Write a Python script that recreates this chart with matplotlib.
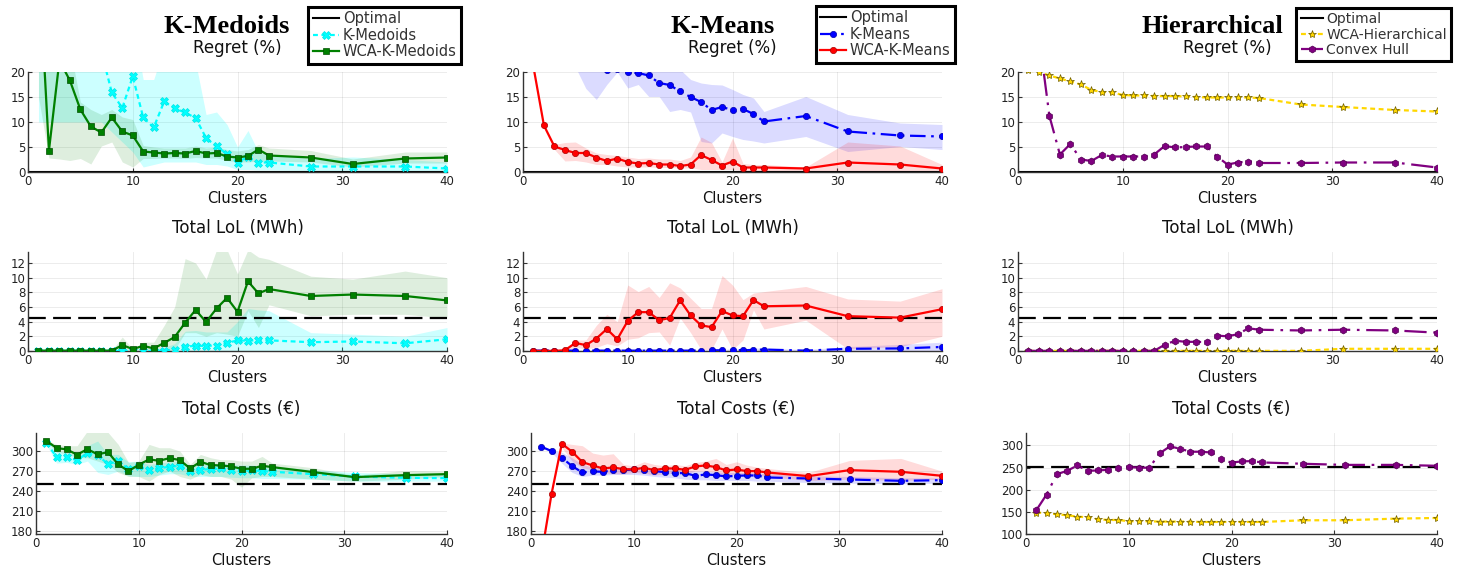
import matplotlib
matplotlib.use('Agg')
import matplotlib.pyplot as plt

W, H = 1465, 571
plt.rcParams['font.family'] = 'DejaVu Sans'

# cluster counts on the x axis
clusters = [1, 2, 3, 4, 5, 6, 7, 8, 9, 10, 11, 12, 13, 14, 15, 16, 17, 18, 19, 20,
            21, 22, 23, 27, 31, 36, 40]

# ---- Regret (%) ----
kmed_regret = [40, 35, 32, 30, 28, 26, 24.1, 15.9, 12.8, 19.1, 10.9, 8.9, 14.1, 12.7, 11.9, 10.8,
               6.8, 5.1, 3.6, 1.9, 3.1, 1.9, 1.9, 1.1, 1.1, 1.1, 0.7]
kmed_regret_lo = [10, 10, 10, 10, 10, 10, 10, 8, 6, 4, 1.0, 1.5, 2, 2, 2, 2, 1.5, 1.5, 1.2, 0.5,
                  0.5, 0.4, 0.4, 0.3, 0.3, 0.3, 0.2]
kmed_regret_hi = [45, 45, 45, 45, 45, 45, 45, 40, 35, 30, 18.5, 18.5, 25, 25, 25, 22, 11.5, 12, 9.5,
                  5, 8.3, 4, 3.5, 2.7, 3.0, 2.5, 2.0]
wca_kmed_regret = [43, 4.3, 22.3, 18.3, 12.5, 9.1, 7.9, 10.9, 8.1, 7.3, 4.1, 3.9, 3.7, 3.8, 3.7, 4.2,
                   3.7, 3.8, 3.1, 2.9, 3.2, 4.5, 3.3, 2.9, 1.6, 2.7, 2.9]
wca_kmed_regret_lo = [15, 2.8, 2.6, 2.3, 2.7, 1.6, 5.2, 6.0, 2.0, 1.0, 2.7, 2.7, 2.8, 2.8, 2.7, 2.9,
                      2.8, 2.8, 2.3, 2.0, 2.0, 2.2, 2.2, 2.0, 1.0, 1.8, 1.8]
wca_kmed_regret_hi = [50, 30, 30, 25, 14, 12.5, 11.5, 12.5, 11, 10.5, 5.3, 5, 4.8, 4.8, 4.8, 5.2,
                      4.8, 5, 4.5, 4.2, 4.5, 5.5, 4.8, 4.3, 2.6, 4.0, 4.0]

kmeans_regret = [30, 28, 27, 25, 24, 22, 21, 20.3, 20.5, 19.9, 19.8, 19.3, 17.8, 17.4, 16.1, 15.0,
                 14.0, 12.4, 13.0, 12.4, 12.6, 11.6, 10.1, 11.2, 8.1, 7.3, 7.1]
kmeans_regret_lo = [25, 24, 23, 22, 21, 16.7, 14.5, 17.5, 20, 16.8, 17.5, 15.1, 15.1, 12.1, 12.5, 12,
                    6.1, 5.8, 7.8, 7.1, 6.5, 6.2, 5.8, 7.1, 4.1, 5.1, 4.5]
kmeans_regret_hi = [35, 35, 35, 35, 35, 30, 30, 30, 30, 28, 27, 25, 24, 22, 20.5, 18.5, 17.8, 17.5,
                    17.4, 16.5, 15.5, 14.8, 12.1, 15.1, 11.5, 9.8, 9.5]
wca_kmeans_regret = [21, 9.3, 5.1, 4.4, 3.8, 3.8, 2.9, 2.2, 2.7, 2.0, 1.7, 1.8, 1.5, 1.5, 1.2, 1.5,
                     3.4, 2.4, 1.3, 2.1, 0.9, 0.9, 0.9, 0.7, 1.9, 1.5, 0.7]
wca_kmeans_regret_lo = [21, 9.3, 4.5, 2.2, 2.3, 2.0, 1.5, 1.5, 1.2, 1.0, 1.0, 1.0, 0.9, 0.9, 0.8, 0.8,
                        0.5, 0.5, 0.5, 0.5, 0.3, 0.3, 0.3, 0.3, 0.3, 0.3, 0.3]
wca_kmeans_regret_hi = [21, 9.3, 5.5, 5.9, 6.0, 4.8, 3.8, 3.5, 3.3, 3.0, 2.7, 2.8, 2.6, 2.6, 2.3, 3.0,
                        7.0, 5.9, 2.0, 6.8, 1.7, 1.5, 1.5, 1.0, 6.0, 5.2, 1.5]

wca_hier_regret = [20.3, 20.0, 19.3, 18.7, 18.1, 17.5, 16.4, 16.0, 15.9, 15.4, 15.3, 15.3, 15.2, 15.2,
                   15.2, 15.1, 15.0, 14.9, 14.9, 14.9, 14.9, 14.9, 14.8, 13.5, 13.0, 12.4, 12.1]
hull_regret = [35, 27.2, 11.2, 3.5, 5.6, 2.5, 2.2, 3.4, 3.1, 3.1, 3.1, 3.1, 3.5, 5.2, 4.9, 5.0, 5.1,
               5.1, 3.1, 1.5, 1.9, 2.1, 1.8, 1.8, 1.9, 1.9, 0.9]

# ---- Total LoL (MWh) ----
opt_lol = 4.55
kmed_lol = [0, 0, 0, 0, 0, 0, 0, 0, 0, 0, 0, 0, 0.05, 0.2, 0.6, 0.7, 0.7, 0.75, 1.1, 1.45, 1.4, 1.5,
            1.45, 1.2, 1.3, 1.05, 1.6]
kmed_lol_lo = [0, 0, 0, 0, 0, 0, 0, 0, 0, 0, 0, 0, 0, 0, 0, 0, 0, 0, 0, 0, 0, 0, 0, 0, 0, 0, 0]
kmed_lol_hi = [0, 0, 0, 0, 0, 0, 0, 0, 0, 0, 0, 0, 0.5, 1.0, 2.7, 2.8, 2.6, 2.6, 2.6, 4.0, 5.8, 5.6,
               5.5, 2.5, 2.3, 2.0, 3.2]
wca_kmed_lol = [0.05, 0.05, 0.05, 0.05, 0.05, 0.05, 0.05, 0.05, 0.8, 0.27, 0.7, 0.35, 1.1, 1.9, 3.85,
                5.6, 3.95, 5.8, 7.25, 5.35, 9.5, 7.85, 8.45, 7.5, 7.7, 7.5, 6.9]
wca_kmed_lol_lo = [0, 0, 0, 0, 0, 0, 0, 0, 0, 0, 0, 0, 0, 0.2, 2.5, 2.5, 2.0, 2.5, 2.3, 2.0, 5.5, 3.2,
                   6.3, 4.8, 5.0, 5.0, 4.5]
wca_kmed_lol_hi = [0.1, 0.1, 0.1, 0.1, 0.1, 0.1, 0.1, 0.1, 1.9, 0.3, 1.2, 1.2, 3.5, 6.0, 12.6, 12.0,
                   9.8, 13.8, 13.8, 10.5, 13.8, 12.8, 12.5, 10.2, 9.8, 10.9, 10.0]

kmeans_lol = [0.05, 0.05, 0.05, 0.05, 0.05, 0.05, 0.05, 0.05, 0.05, 0.05, 0.05, 0.05, 0.05, 0.05,
              0.05, 0.05, 0.05, 0.1, 0.1, 0.15, 0.1, 0.15, 0.2, 0.05, 0.3, 0.35, 0.55]
kmeans_lol_lo = [0, 0, 0, 0, 0, 0, 0, 0, 0, 0, 0, 0, 0, 0, 0, 0, 0, 0, 0, 0, 0, 0, 0, 0, 0, 0, 0]
kmeans_lol_hi = [0.1, 0.1, 0.1, 0.1, 0.1, 0.1, 0.1, 0.1, 0.1, 0.1, 0.1, 0.1, 0.1, 0.1, 0.1, 0.15,
                 0.15, 0.2, 0.2, 0.3, 0.2, 0.4, 0.4, 0.2, 0.6, 0.9, 1.2]
wca_kmeans_lol = [0.02, 0.02, 0.02, 0.1, 1.1, 0.8, 1.7, 3.0, 1.6, 4.1, 5.3, 5.3, 4.2, 4.5, 6.9, 4.85,
                  3.5, 3.25, 5.45, 4.85, 4.75, 6.95, 6.1, 6.2, 4.75, 4.55, 5.7]
wca_kmeans_lol_lo = [0, 0, 0, 0, 0.5, 0.3, 0.5, 1.0, 0.7, 1.6, 1.8, 2.5, 2.6, 0.8, 4.5, 2.5, 0.2,
                     0.2, 3.0, 0.2, 1.5, 5.6, 3.0, 4.2, 0.3, 0.6, 2.0]
wca_kmeans_lol_hi = [0.05, 0.05, 0.05, 0.2, 1.5, 1.5, 3.5, 5.0, 4.0, 9.0, 8.1, 8.8, 7.3, 9.3, 8.6,
                     7.2, 5.8, 5.8, 10.3, 9.0, 7.0, 7.9, 8.1, 8.8, 7.1, 6.8, 8.5]

wca_hier_lol = [0.02, 0.02, 0.02, 0.02, 0.02, 0.02, 0.02, 0.02, 0.02, 0.02, 0.02, 0.02, 0.02, 0.02,
                0.02, 0.02, 0.02, 0.02, 0.02, 0.05, 0.02, 0.02, 0.02, 0.02, 0.3, 0.3, 0.3]
hull_lol = [0.02, 0.02, 0.02, 0.02, 0.02, 0.02, 0.02, 0.02, 0.02, 0.02, 0.02, 0.02, 0.02, 0.85, 1.4,
            1.25, 1.25, 1.2, 2.1, 2.0, 2.3, 3.1, 2.9, 2.8, 2.9, 2.8, 2.5]

# ---- Total Costs (EUR) ----
opt_cost = 251
kmed_cost = [312, 291.5, 290.5, 286.5, 297, 294, 280.5, 285, 273, 278, 271, 274.5, 276.5, 278, 270.5,
             272, 273, 274, 272, 270, 271, 270, 269, 265.5, 262, 260, 259.5]
kmed_cost_lo = [310, 282, 283, 280, 285, 268, 265, 270, 263, 262, 262, 264, 266, 266, 262, 262, 262,
                262, 261, 260, 260, 259, 259, 258, 255, 255, 255]
kmed_cost_hi = [314, 300, 298, 294, 308, 315, 295, 295, 284, 285, 280, 282, 284, 285, 279, 280, 281,
                282, 280, 279, 279, 278, 277, 272, 268, 266, 265]
wca_kmed_cost = [315.5, 304.5, 302.5, 294.5, 303, 295, 298.5, 280, 270, 279.5, 287.5, 285.5, 289.5,
                 286.5, 274, 284, 279, 278.5, 277, 273.5, 273.5, 278, 276, 268.5, 261, 264, 265.5]
wca_kmed_cost_lo = [315, 298, 296, 290, 290, 285, 280, 268, 262, 262, 255, 265, 270, 262, 258, 265,
                    262, 262, 258, 246, 260, 262, 262, 258, 255, 258, 262]
wca_kmed_cost_hi = [316, 310, 308, 308, 330, 330, 328, 310, 283, 285, 310, 305, 305, 300, 280, 295,
                    290, 287, 287, 285, 285, 292, 282, 275, 264, 271, 270]

kmeans_cost = [306.5, 300, 290, 277.5, 268, 269.5, 269, 271, 271.5, 272.5, 272, 270, 268.5, 267, 267,
               263, 265, 264, 262, 263, 263.5, 263.5, 260.5, 259, 257.5, 255.5, 256.5]
kmeans_cost_lo = [306, 298, 282, 268, 262, 264, 264, 265, 265, 265, 264, 262, 261, 260, 258, 257, 257,
                  256, 256, 256, 256, 255, 255, 253, 252, 251, 252]
kmeans_cost_hi = [307, 302, 298, 290, 280, 276, 275, 275, 275, 276, 276, 275, 274, 273, 272, 270, 270,
                  269, 268, 268, 268, 267, 266, 263, 262, 260, 260]
wca_kmeans_cost = [143, 236, 311, 299, 283.5, 278.5, 274, 275.5, 273, 272.5, 275, 271.5, 274, 274, 272,
                   277, 278.5, 276, 271, 272.5, 270, 270, 268, 262.5, 271.5, 269, 263]
wca_kmeans_cost_lo = [143, 236, 305, 285, 275, 272, 268, 266, 266, 268, 267, 264, 266, 267, 266, 270,
                      270, 268, 264, 266, 264, 264, 262, 256, 258, 256, 258]
wca_kmeans_cost_hi = [143, 236, 312, 310, 308, 297, 294, 296, 280, 278, 284, 280, 278, 280, 278, 283,
                      285, 289, 280, 284, 279, 276, 274, 268, 286, 289, 270]

wca_hier_cost = [148.3, 147.5, 144.5, 142.3, 139.2, 137.7, 133.2, 131.7, 131.7, 128.7, 128.7, 128.7,
                 128, 128, 128, 128, 127.2, 127.2, 127.2, 127.2, 127.2, 127.2, 127.2, 131, 131, 134.7,
                 136.2]
hull_cost = [153.6, 189, 235, 242.6, 254.7, 242.6, 243.4, 245, 250, 251, 250, 249.4, 282, 297.7, 292.5,
             285.7, 285.7, 284, 269, 261, 264, 264.5, 261.5, 258.5, 256, 256, 254]

# ---- styles ----
CYAN = dict(color='#00FFFF', ls=(0, (2.2, 1.6)), marker='X', ms=6, mec='#00E5E5', mew=0.5,
            label='K-Medoids')
GREEN = dict(color='#008000', ls='-', marker='s', ms=4.5, mec='#005000', mew=0.5,
             label='WCA-K-Medoids')
BLUE = dict(color='#0000FF', ls=(0, (7, 2.5, 1.2, 2.5)), marker='o', ms=4.5, mec='#0000AA', mew=0.5,
            label='K-Means')
RED = dict(color='#FF0000', ls='-', marker='o', ms=4.5, mec='#AA0000', mew=0.5,
           label='WCA-K-Means')
GOLD = dict(color='#FFD700', ls=(0, (2.2, 1.6)), marker='*', ms=6, mec='#6B5A00', mew=0.5,
            label='WCA-Hierarchical')
PURPLE = dict(color='#800080', ls=(0, (10, 3, 1.2, 3)), marker='h', ms=5, mec='#500050', mew=0.5,
              label='Convex Hull')
BAND_ALPHA = {'#00FFFF': 0.2, '#008000': 0.13, '#0000FF': 0.14, '#FF0000': 0.14}

fig = plt.figure(figsize=(W / 100, H / 100), dpi=100)


def rect(left, right, top, bottom):
    return [left / W, 1 - bottom / H, (right - left) / W, (bottom - top) / H]


def panel(ax, series, opt, ylim, yticks, title):
    ax.grid(True, color='black', alpha=0.09, lw=0.6)
    ax.set_axisbelow(True)
    if opt is None:
        ax.axhline(0, color='black', lw=1.5, label='Optimal', zorder=2)
    else:
        ax.plot([], [], color='black', lw=1.5, label='Optimal')
        ax.axhline(opt, color='black', lw=1.6, ls=(0, (8, 3.3)), zorder=2)
    for vals, lo, hi, st in series:
        if lo is not None:
            ax.fill_between(clusters, lo, hi, color=st['color'],
                            alpha=BAND_ALPHA[st['color']], lw=0, zorder=1)
    for vals, lo, hi, st in series:
        ax.plot(clusters, vals, lw=1.6, zorder=3, **st)
    ax.set_xlim(0, 40)
    ax.set_ylim(*ylim)
    ax.set_xticks([0, 10, 20, 30, 40])
    ax.set_yticks(yticks)
    for s in ['top', 'right']:
        ax.spines[s].set_visible(False)
    for s in ['left', 'bottom']:
        ax.spines[s].set_color('#333333')
        ax.spines[s].set_linewidth(1.0)
    ax.tick_params(direction='in', length=3, width=0.8, color='#333333', labelsize=8.5,
                   labelcolor='#222222', pad=2)
    ax.set_title(title, fontsize=12, pad=14, color='#111111')
    ax.set_xlabel('Clusters', fontsize=10.5, labelpad=2, color='#111111')


tops = [(72, 172), (252, 351), (433, 534)]
lefts = [[28, 523, 1018], [28, 523, 1018], [36, 531, 1026]]
rights = [447, 942, 1437]

columns = [
    ('K-Medoids', 290,
     [[(kmed_regret, kmed_regret_lo, kmed_regret_hi, CYAN),
       (wca_kmed_regret, wca_kmed_regret_lo, wca_kmed_regret_hi, GREEN)],
      [(kmed_lol, kmed_lol_lo, kmed_lol_hi, CYAN),
       (wca_kmed_lol, wca_kmed_lol_lo, wca_kmed_lol_hi, GREEN)],
      [(kmed_cost, kmed_cost_lo, kmed_cost_hi, CYAN),
       (wca_kmed_cost, wca_kmed_cost_lo, wca_kmed_cost_hi, GREEN)]],
     (176, 327), [180, 210, 240, 270, 300], (461, 7), 10.5, 1.8),
    ('K-Means', 775,
     [[(kmeans_regret, kmeans_regret_lo, kmeans_regret_hi, BLUE),
       (wca_kmeans_regret, wca_kmeans_regret_lo, wca_kmeans_regret_hi, RED)],
      [(kmeans_lol, kmeans_lol_lo, kmeans_lol_hi, BLUE),
       (wca_kmeans_lol, wca_kmeans_lol_lo, wca_kmeans_lol_hi, RED)],
      [(kmeans_cost, kmeans_cost_lo, kmeans_cost_hi, BLUE),
       (wca_kmeans_cost, wca_kmeans_cost_lo, wca_kmeans_cost_hi, RED)]],
     (176, 327), [180, 210, 240, 270, 300], (955, 6), 10.5, 1.8),
    ('Hierarchical', 1283,
     [[(wca_hier_regret, None, None, GOLD), (hull_regret, None, None, PURPLE)],
      [(wca_hier_lol, None, None, GOLD), (hull_lol, None, None, PURPLE)],
      [(wca_hier_cost, None, None, GOLD), (hull_cost, None, None, PURPLE)]],
     (100, 328), [100, 150, 200, 250, 300], (1451, 8), 10, 1.6),
]

for c, (name, name_right, rows, cost_ylim, cost_ticks, leg_pos, leg_fs, leg_hl) in enumerate(columns):
    ax1 = fig.add_axes(rect(lefts[0][c], rights[c], *tops[0]))
    panel(ax1, rows[0], None, (0, 20), [0, 5, 10, 15, 20], 'Regret (%)')
    ax2 = fig.add_axes(rect(lefts[1][c], rights[c], *tops[1]))
    panel(ax2, rows[1], opt_lol, (0, 13.5), [0, 2, 4, 6, 8, 10, 12], 'Total LoL (MWh)')
    ax3 = fig.add_axes(rect(lefts[2][c], rights[c], *tops[2]))
    panel(ax3, rows[2], opt_cost, cost_ylim, cost_ticks, 'Total Costs (€)')

    leg = ax1.legend(loc='upper right', bbox_to_anchor=(leg_pos[0] / W, 1 - leg_pos[1] / H),
                     bbox_transform=fig.transFigure, fontsize=leg_fs, frameon=True, fancybox=False,
                     handlelength=leg_hl, handletextpad=0.25, labelspacing=0.1, borderpad=0.3,
                     borderaxespad=0, numpoints=1, framealpha=1)
    leg.get_frame().set_edgecolor('black')
    leg.get_frame().set_linewidth(2.2)
    for t in leg.get_texts():
        t.set_color('#333333')

    fig.text(name_right / W, 1 - 33 / H, name, ha='right', va='baseline',
             family='Liberation Serif', weight='bold', fontsize=19)

fig.savefig('out.png', dpi=100)
